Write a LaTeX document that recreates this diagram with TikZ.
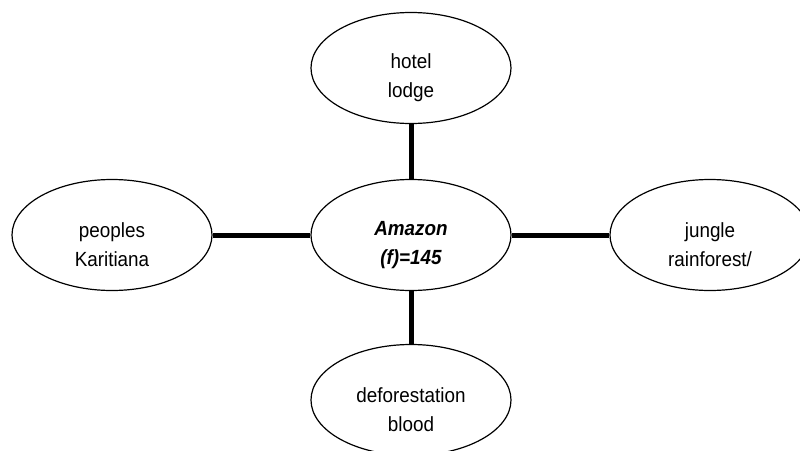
\documentclass[tikz,border=0pt]{standalone}
\usepackage{fontspec}
\setmainfont{Liberation Sans}[FakeStretch=0.92]
\usetikzlibrary{shapes.geometric}

\tikzset{
  bubble/.style={draw, ellipse, line width=1.2pt, minimum width=200pt, minimum height=111pt, inner sep=0pt},
  word/.style={align=center, font=\fontsize{20.5}{29}\selectfont, inner sep=0pt},
  link/.style={line width=5pt}
}

\begin{document}
\begin{tikzpicture}[x=1pt, y=-1pt]
                        \useasboundingbox (0, 0) rectangle (800, 450);
                        \clip (0, 0) rectangle (800, 450);
                        % Ellipses:
                        \node[bubble](C) at (411, 235){};
                        \node[bubble](T) at (411, 68){};
                        \node[bubble](L) at (112, 235){};
                        \node[bubble](R) at (710, 235){};
                        \node[bubble](B) at (411, 400){};
                        % Texts:
                        \node[word, font=\fontsize{20.5}{29}\selectfont\bfseries\itshape](tC) at ([yshift=-10pt]C.center){Amazon\\(f)=145};
                        \node[word](tT) at ([yshift=-10pt]T.center){hotel\\lodge};
                        \node[word](tL) at ([yshift=-10pt]L.center){peoples\\Karitiana};
                        \node[word](tR) at ([yshift=-10pt]R.center){jungle\\rainforest/};
                        \node[word](tB) at ([yshift=-10pt]B.center){deforestation\\blood};
                        % Wires:
                        \draw[link] (C.north) -- (T.south);
                        \draw[link] (C.south) -- (B.north);
                        \draw[link] (C.west) -- (L.east);
                        \draw[link] (C.east) -- (R.west);
                    \end{tikzpicture}
\end{document}
